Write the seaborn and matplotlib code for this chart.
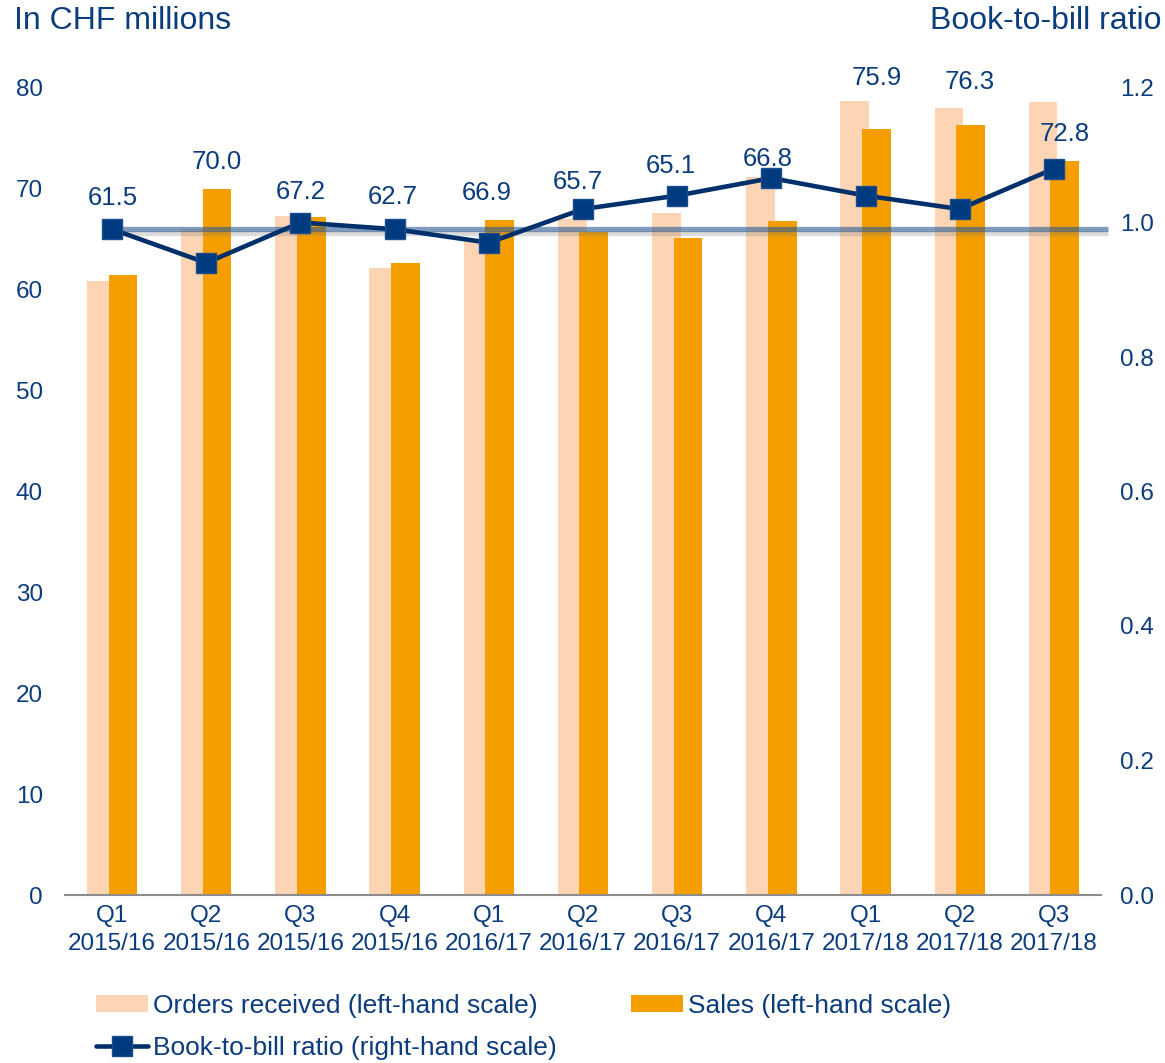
import numpy as np
import matplotlib
matplotlib.use("Agg")
import matplotlib.pyplot as plt
import matplotlib.patheffects as pe
from matplotlib.lines import Line2D
from matplotlib.patches import Patch
import seaborn as sns

# Quarterly figures, in CHF millions (left scale) and book-to-bill ratio (right scale)
quarters = ["Q1", "Q2", "Q3", "Q4", "Q1", "Q2", "Q3", "Q4", "Q1", "Q2", "Q3"]
years = ["2015/16", "2015/16", "2015/16", "2015/16",
         "2016/17", "2016/17", "2016/17", "2016/17",
         "2017/18", "2017/18", "2017/18"]
orders = [60.9, 66.0, 67.3, 62.2, 64.9, 67.0, 67.6, 71.2, 78.7, 78.0, 78.6]
sales = [61.5, 70.0, 67.2, 62.7, 66.9, 65.7, 65.1, 66.8, 75.9, 76.3, 72.8]
ratio = [0.99, 0.94, 1.00, 0.99, 0.97, 1.02, 1.04, 1.066, 1.04, 1.02, 1.08]
ratio_ref = 0.99

left_ticks = [0, 10, 20, 30, 40, 50, 60, 70, 80]
right_ticks = [0.0, 0.2, 0.4, 0.6, 0.8, 1.0, 1.2]

TEXT = "#0B3C7D"
ORDERS_C = "#FDD5B4"
SALES_C = "#F59E00"
LINE_C = "#00306B"
MARK_C = "#003B80"
REF_C = "#2A5A94"
AXIS_C = "#8C8C8C"

sns.set_theme(style="white")
plt.rcParams["font.family"] = ["Liberation Sans", "DejaVu Sans"]

W, H = 1165, 1063
fig = plt.figure(figsize=(W / 100, H / 100), dpi=100)
ax = fig.add_axes([65 / W, 1 - 895 / H, (1101 - 65) / W, (895 - 88) / H])

pos = np.arange(len(quarters))
bar_w = 0.305
shift = 0.115

sns.barplot(x=pos - shift, y=orders, native_scale=True, width=bar_w,
            color=ORDERS_C, saturation=1, errorbar=None, linewidth=0, ax=ax)
sns.barplot(x=pos + shift, y=sales, native_scale=True, width=bar_w,
            color=SALES_C, saturation=1, errorbar=None, linewidth=0, ax=ax)

ax.set_xlim(-0.5, len(quarters) - 0.5)
ax.set_ylim(0, 80)
ax.set_yticks(left_ticks)
ax.set_yticklabels([str(t) for t in left_ticks])
ax.set_xticks(pos)
ax.set_xticklabels([f"{q}\n{y}" for q, y in zip(quarters, years)],
                   linespacing=1.36)
ax.set_xticks(np.arange(-0.5, len(quarters), 1), minor=True)
ax.tick_params(axis="x", which="major", length=0, pad=7, labelsize=17.5,
               labelcolor=TEXT)
ax.tick_params(axis="x", which="minor", length=7, width=1.5, color=AXIS_C,
               direction="out")
ax.tick_params(axis="y", length=0, pad=16, labelsize=17.5, labelcolor=TEXT)
for side in ["left", "right", "top"]:
    ax.spines[side].set_visible(False)
ax.spines["bottom"].set_color(AXIS_C)
ax.spines["bottom"].set_linewidth(1.5)
ax.set_xlabel("")
ax.set_ylabel("")
ax.grid(False)

# Book-to-bill ratio on the secondary axis
ax2 = ax.twinx()
ax2.set_ylim(0, 1.2)
ax2.set_yticks(right_ticks)
ax2.set_yticklabels([f"{t:.1f}" for t in right_ticks])
ax2.tick_params(axis="y", length=0, pad=14, labelsize=17.5, labelcolor=TEXT)
for side in ["left", "right", "top", "bottom"]:
    ax2.spines[side].set_visible(False)
ax2.grid(False)

ax2.hlines(ratio_ref, pos[0], pos[-1] + 0.57, colors=REF_C, linewidth=3.8,
           alpha=0.6, zorder=2, clip_on=False,
           path_effects=[pe.SimpleLineShadow(offset=(0, -3), shadow_color="#777777",
                                             alpha=0.25),
                         pe.Normal()])

sns.lineplot(x=pos, y=ratio, ax=ax2, color=LINE_C, linewidth=3.3, marker="s",
             markersize=14, markerfacecolor=MARK_C, markeredgecolor="#1C4E8E",
             markeredgewidth=1.0, zorder=4, legend=False)
ax2.set_xlabel("")
ax2.set_ylabel("")
ax2.set_xlim(-0.5, len(quarters) - 0.5)

# Sales value labels, nudged clear of the ratio line and the bars
label_dx = [0.6, 7.7, 0.4, -1.2, -1.3, -3.6, -4.5, -2.4, 8.3, 7.4, 7.9]
label_dy = [55.1, 19.4, 18.1, 47.2, 19.5, 36.1, 52.1, 44.6, 37.0, 31.2, 19.4]
for i, v in enumerate(sales):
    ax.annotate(f"{v:.1f}", xy=(pos[i], v), xytext=(label_dx[i], label_dy[i]),
                textcoords="offset points", ha="center", va="center",
                fontsize=18.5, color=TEXT, zorder=6, annotation_clip=False)

# Axis titles
fig.text(14 / W, 1 - 21 / H, "In CHF millions", ha="left", va="center",
         fontsize=23, color=TEXT)
fig.text(1161 / W, 1 - 21 / H, "Book-to-bill ratio", ha="right", va="center",
         fontsize=23, color=TEXT)

# Legend entries
leg_kw = dict(frameon=False, fontsize=19, handlelength=1.97, handleheight=0.6,
              handletextpad=0.2, borderpad=0, borderaxespad=0,
              labelcolor=TEXT, loc="center left")
fig.legend(handles=[Patch(facecolor=ORDERS_C, edgecolor="none",
                          label="Orders received (left-hand scale)")],
           bbox_to_anchor=(96 / W, 1 - 1006 / H), **leg_kw)
fig.legend(handles=[Patch(facecolor=SALES_C, edgecolor="none",
                          label="Sales (left-hand scale)")],
           bbox_to_anchor=(631 / W, 1 - 1006 / H), **leg_kw)
fig.legend(handles=[Line2D([], [], color=LINE_C, linewidth=3.3, marker="s",
                           markersize=14, markerfacecolor=MARK_C,
                           markeredgecolor="#1C4E8E",
                           label="Book-to-bill ratio (right-hand scale)")],
           bbox_to_anchor=(96 / W, 1 - 1048 / H), **leg_kw)

fig.savefig("out.png", dpi=100)
